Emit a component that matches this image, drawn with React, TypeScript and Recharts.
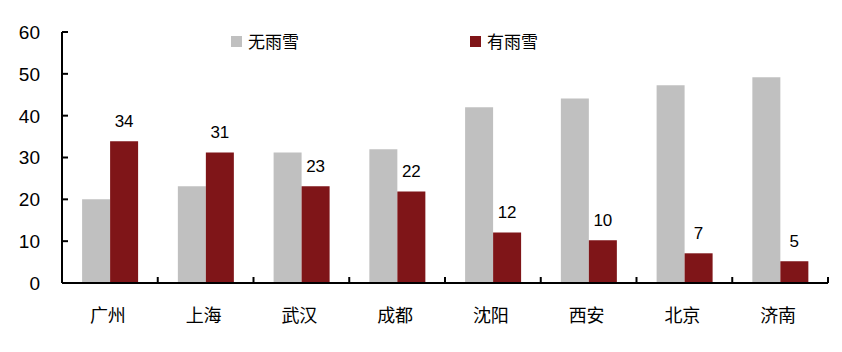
import React from "react";
import { BarChart, Bar, XAxis, YAxis, LabelList } from "recharts";

const cities = ["广州", "上海", "武汉", "成都", "沈阳", "西安", "北京", "济南"];
const noRainSnow = [20.0, 23.1, 31.2, 32.0, 42.0, 44.1, 47.3, 49.2];
const withRainSnow = [33.9, 31.2, 23.1, 21.9, 12.1, 10.2, 7.1, 5.2];
const yTicks = [0, 10, 20, 30, 40, 50, 60];
const seriesNames = ["无雨雪", "有雨雪"];
const colors = ["#C0C0C0", "#7F1518"];

const data = cities.map((c, i) => ({ city: c, a: noRainSnow[i], b: withRainSnow[i] }));

const W = 842;
const H = 352;
const M = { top: 32, right: 14, left: 0, bottom: 19 };
const Y_W = 62;
const BW = (W - M.left - M.right - Y_W) / cities.length;

const numFont = "'Liberation Sans', Arial, sans-serif";
const cjkFont = "'Noto Sans CJK SC', sans-serif";

const YTick = (props: any) => {
  const { x, y, payload } = props;
  return (
    <g>
      <line x1={x} x2={x + 6} y1={y} y2={y} stroke="#000" strokeWidth={2} />
      <text x={x - 22} y={y} dy="0.36em" textAnchor="end" fontSize={19} fontFamily={numFont} fill="#000">
        {payload.value}
      </text>
    </g>
  );
};

const XTick = (props: any) => {
  const { x, y, payload, index } = props;
  const last = index === cities.length - 1;
  return (
    <g>
      {index > 0 && (
        <line x1={x - BW / 2} x2={x - BW / 2} y1={y} y2={y - 6} stroke="#000" strokeWidth={2} />
      )}
      {last && (
        <line x1={x + BW / 2} x2={x + BW / 2} y1={y} y2={y - 6} stroke="#000" strokeWidth={2} />
      )}
      <text x={x - 2} y={y + 33} dy="0.35em" textAnchor="middle" fontSize={18} fontFamily={cjkFont} fill="#000">
        {payload.value}
      </text>
    </g>
  );
};

const LegendBox = () => (
  <div style={{ position: "absolute", top: 31, left: 231, width: 400, height: 20, fontFamily: cjkFont, fontSize: 17, color: "#000" }}>
    {seriesNames.map((n, i) => (
      <div
        key={n}
        style={{ position: "absolute", left: i === 0 ? 0 : 239, top: 0, display: "flex", alignItems: "center", whiteSpace: "nowrap" }}
      >
        <span style={{ display: "inline-block", width: 11, height: 11, background: colors[i], marginRight: 6 }} />
        <span style={{ lineHeight: "20px" }}>{n}</span>
      </div>
    ))}
  </div>
);

export default function App() {
  return (
    <div style={{ position: "absolute", left: 0, top: 0, width: W, height: H, background: "#fff" }}>
      <BarChart width={W} height={H} data={data} margin={M} barCategoryGap="21%" barGap={0}>
        <XAxis
          dataKey="city"
          axisLine={{ stroke: "#000", strokeWidth: 2 }}
          tickLine={false}
          tickSize={0}
          tickMargin={0}
          tick={<XTick />}
          height={50}
          interval={0}
        />
        <YAxis
          domain={[0, 60]}
          ticks={yTicks}
          width={Y_W}
          axisLine={{ stroke: "#000", strokeWidth: 2 }}
          tickLine={false}
          tickSize={0}
          tickMargin={0}
          tick={<YTick />}
          interval={0}
        />
        <Bar dataKey="a" name={seriesNames[0]} fill={colors[0]} isAnimationActive={false} />
        <Bar dataKey="b" name={seriesNames[1]} fill={colors[1]} isAnimationActive={false}>
          <LabelList
            dataKey="b"
            position="top"
            offset={14}
            formatter={(v: any) => Math.round(Number(v))}
            style={{ fontSize: 17, fontFamily: numFont, fill: "#000" }}
          />
        </Bar>
      </BarChart>
      <LegendBox />
    </div>
  );
}
